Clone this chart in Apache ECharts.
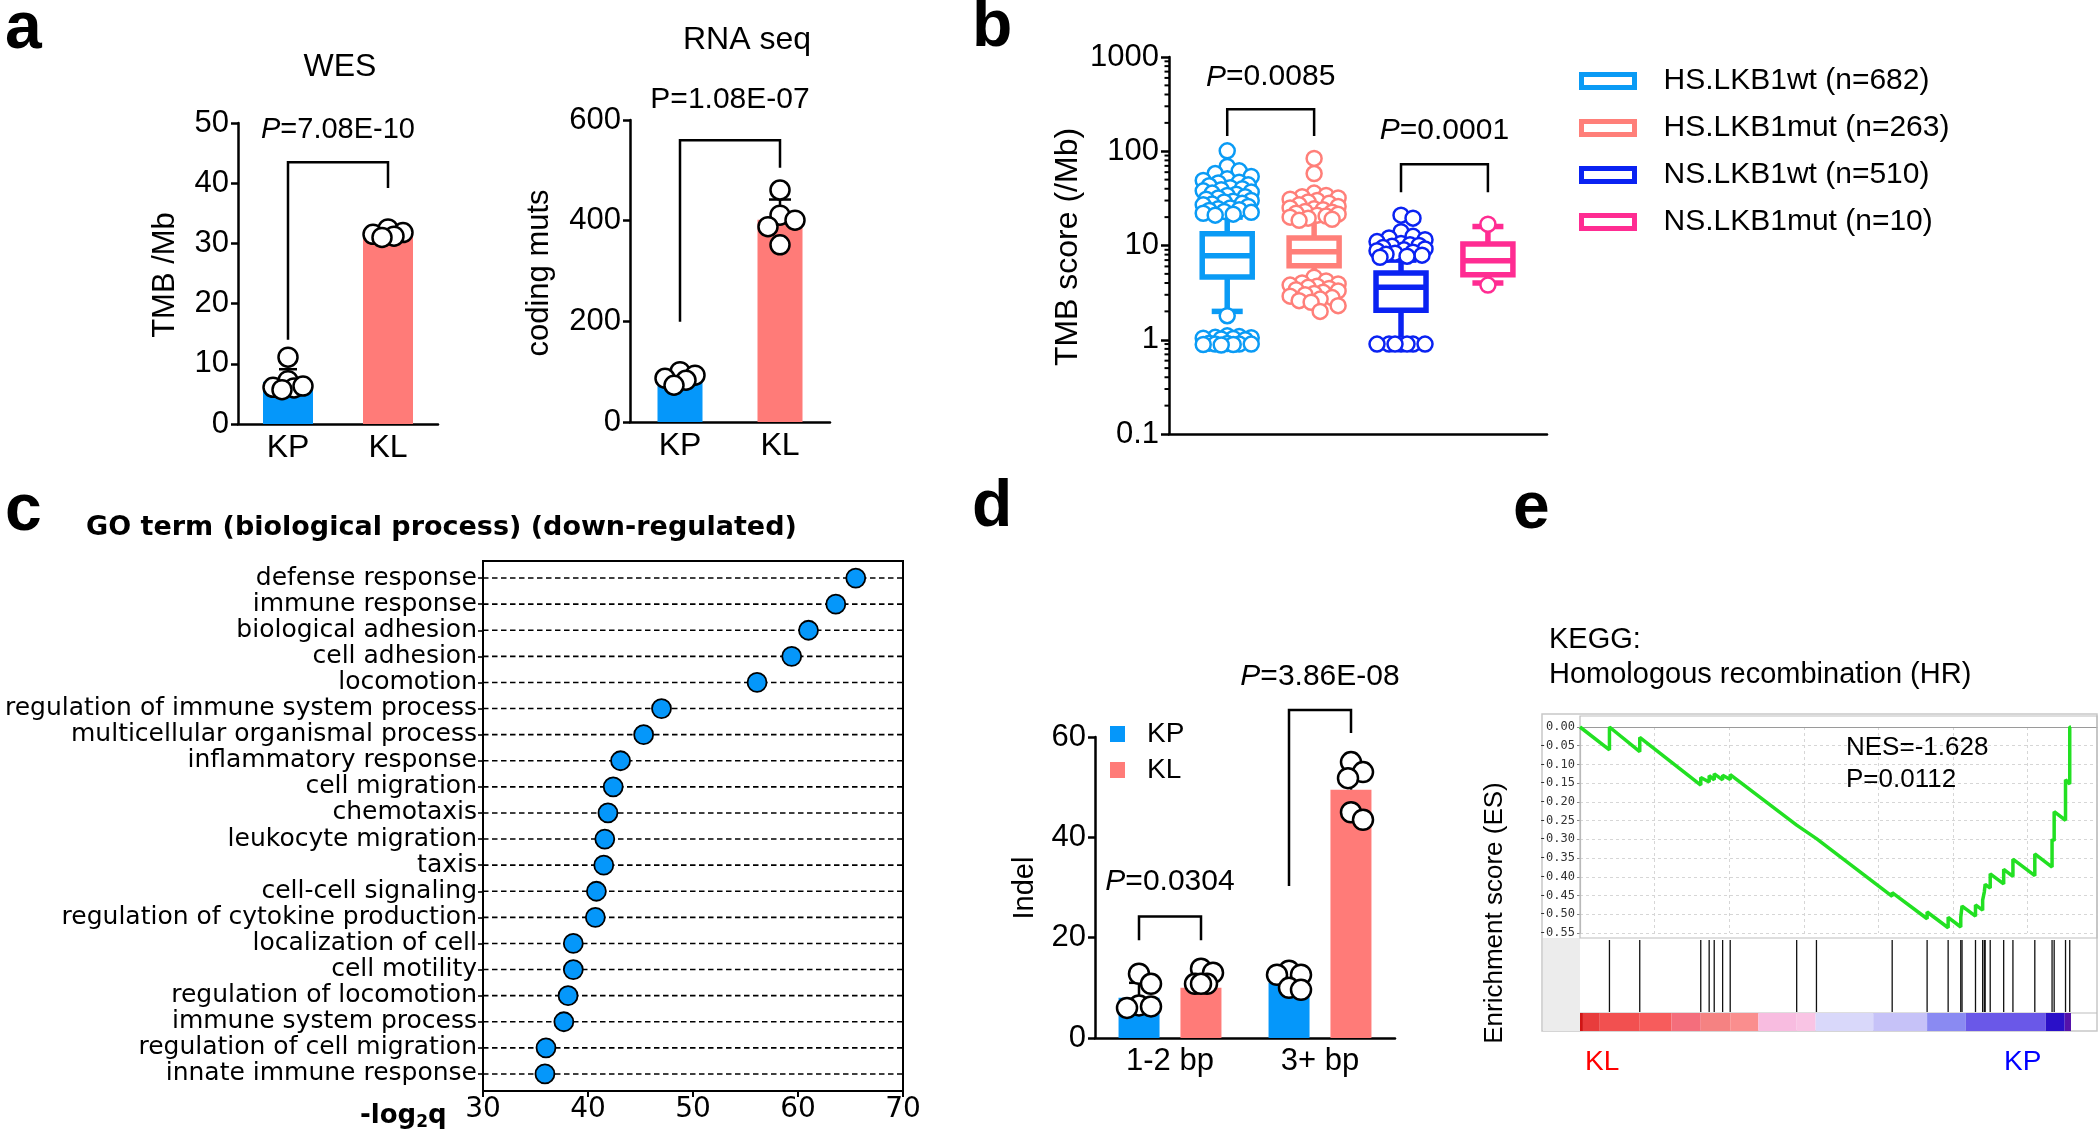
<!DOCTYPE html>
<html><head><meta charset="utf-8">
<script src="https://cdn.jsdelivr.net/npm/echarts@6/dist/echarts.min.js"></script>
<style>html,body{margin:0;padding:0;background:#fff}#c{width:2100px;height:1132px}</style>
</head><body><div id="c"></div>
<script>
// ================= DATA =================
// panel a
const groupsA = ['KP', 'KL'];
const wesMean = [7.0, 31.5];
const wesSd = [2.1, 0.7];
const wesKP = [11.1, 7.2, 6.1, 6.0, 6.3, 5.7];
const wesKL = [32.4, 31.8, 31.5, 31.2, 31.0];
const rnaMean = [87, 402];
const rnaSd = [10, 40];
const rnaKP = [100, 93, 87, 83, 73];
const rnaKL = [461, 411, 401, 388, 352];
const wesTicks = [0, 10, 20, 30, 40, 50];
const rnaTicks = [0, 200, 400, 600];
// brackets: [x1, x2, top, leftEnd, rightEnd, textY]
const wesBracket = [[0, 1, 43.5, 14, 39.2, 48.8]];
const wesPText = ['P=7.08E-10'];
const rnaBracket = [[0, 1, 560, 199, 505, 640]];
const rnaPText = ['P=1.08E-07'];

// panel b
const tmbGroups = ['HS.LKB1wt (n=682)', 'HS.LKB1mut (n=263)', 'NS.LKB1wt (n=510)', 'NS.LKB1mut (n=10)'];
// [lower whisker, Q1, median, Q3, upper whisker]
const tmbBox = [
  [2.0, 4.62, 7.8, 13.3, 20],
  [4.3, 6.1, 8.6, 12.0, 21],
  [1.0, 2.05, 3.6, 5.1, 7.0],
  [4.0, 4.9, 6.9, 10.4, 15.9]
];
const tmbPoints = [
  [101, 69, 62, 58, 54, 51, 49, 47, 46, 44, 43, 41, 40, 39, 38, 37, 36, 35, 34, 33, 32, 31, 30, 29.5, 29, 28, 27.5, 27, 26, 25, 24.5, 24, 23.5, 23, 22.5, 22, 21.5, 21,
   1.8, 1.1, 1.08, 1.06, 1.05, 1.04, 1.03, 1.02, 1.0, 0.92, 0.91, 0.9, 0.9, 0.9, 0.89, 0.89, 0.88],
  [84, 58, 36, 34, 33, 32, 31, 30, 29, 28, 27, 26, 25, 24.5, 24, 23, 22.5, 22, 21.5, 21, 20.5, 20, 19.5, 19, 18.5,
   4.6, 4.2, 4.0, 3.9, 3.8, 3.7, 3.6, 3.5, 3.4, 3.3, 3.2, 3.1, 3.0, 2.9, 2.8, 2.7, 2.6, 2.5, 2.3, 2.0],
  [21, 19.5, 14, 12.5, 12, 11.5, 11, 10.5, 10.2, 10, 9.8, 9.5, 9.2, 9, 8.8, 8.5, 8.3, 8.1, 7.9, 7.7, 7.5,
   0.9, 0.9, 0.9, 0.9, 0.9, 0.9, 0.9],
  [16.8, 3.8]
];
const tmbTicks = [0.1, 1, 10, 100, 1000];
const tmbBracket = [[1, 2, 279, 145, 145, 611], [3, 4, 73, 36.8, 36.8, 167]];
const tmbPText = ['P=0.0085', 'P=0.0001'];

// panel c
const goTerms = ['defense response', 'immune response', 'biological adhesion', 'cell adhesion', 'locomotion',
  'regulation of immune system process', 'multicellular organismal process', 'inflammatory response', 'cell migration',
  'chemotaxis', 'leukocyte migration', 'taxis', 'cell-cell signaling', 'regulation of cytokine production',
  'localization of cell', 'cell motility', 'regulation of locomotion', 'immune system process',
  'regulation of cell migration', 'innate immune response'];
const goScore = [65.5, 63.6, 61.0, 59.4, 56.1, 47.0, 45.3, 43.1, 42.4, 41.9, 41.6, 41.5, 40.8, 40.7, 38.6, 38.6, 38.1, 37.7, 36.0, 35.9];
const goTicks = [30, 40, 50, 60, 70];

// panel d
const indelCats = ['1-2 bp', '3+ bp'];
const indelKPMean = [8.0, 11.0];
const indelKPSd = [3.0, 2.0];
const indelKLMean = [10.0, 49.5];
const indelKLSd = [3.4, 5.0];
const indelKPPts = [[12.8, 10.8, 6.5, 6.3, 6.0], [13.4, 12.6, 12.6, 10.0, 9.6]];
const indelKLPts = [[13.8, 13.0, 10.8, 10.8, 10.8], [55, 53, 51.8, 45, 43.5]];
const indelTicks = [0, 20, 40, 60];
const indelBracket = [[0, 0, 24.2, 19.5, 19.5, 31.1], [1, 1, 65.4, 30.3, 60.8, 72]];
const indelPText = ['P=0.0304', 'P=3.86E-08'];

// panel e (GSEA)
const esRank = [0, 1973, 1973, 4003, 4003, 8091, 8091, 8654, 8654, 8993, 8993, 9556, 9556, 10064, 10064,
  14518, 14518, 15843, 15843, 20917, 20917, 23257, 23257, 24666, 24666, 25512, 25512, 25597, 25597,
  26499, 26499, 26978, 26978, 27091, 27091, 27147, 27147, 27485, 27485, 28387, 28387, 29007, 29007,
  30473, 30473, 31629, 31629, 31770, 31770, 32531, 32531, 32813, 32813, 32900];
const esScore = [0, -0.061, 0.0, -0.066, -0.028, -0.155, -0.135, -0.147, -0.130, -0.141, -0.125, -0.141, -0.129, -0.140, -0.127,
  -0.262, -0.258, -0.298, -0.294, -0.452, -0.442, -0.512, -0.494, -0.536, -0.508, -0.534, -0.508, -0.511, -0.478,
  -0.505, -0.475, -0.489, -0.462, -0.465, -0.440, -0.442, -0.420, -0.430, -0.392, -0.419, -0.380, -0.399, -0.353,
  -0.397, -0.339, -0.374, -0.300, -0.304, -0.226, -0.249, -0.141, -0.152, 0.0, 0.0];
const esHits = [1973, 4003, 8091, 8654, 8993, 9556, 10064, 14518, 15843, 20917, 23257, 24666, 25512, 25597,
  26499, 26978, 27091, 27147, 27485, 28387, 29007, 30473, 31629, 31770, 32531, 32813];
const esTicks = [0, -0.05, -0.10, -0.15, -0.20, -0.25, -0.30, -0.35, -0.40, -0.45, -0.50, -0.55];
const rankBinStart = [0, 197, 1325, 4003, 6117, 8091, 10064, 11952, 14518, 15786, 19648, 23257, 25850, 31206, 32475];
const rankBinEnd = [197, 1325, 4003, 6117, 8091, 10064, 11952, 14518, 15786, 19648, 23257, 25850, 31206, 32475, 32900];

// ================= STYLE =================
const FONT = '"Liberation Sans", Arial, Helvetica, sans-serif';
const DV = '"DejaVu Sans", Verdana, sans-serif';
const BLACK = '#000';
const C_KP = '#0597FA';
const C_KL = '#FF7B78';
const boxColors = ['#0A9BF5', '#FF7F79', '#0A22F2', '#FF2C92'];
const heatColors = ['#D01515', '#E83C3C', '#F25050', '#F75C5C', '#F46E7C', '#F58282', '#FA8E8E', '#F8BCE0', '#F9C4E4',
  '#D9D8FA', '#C6C2F8', '#8A8AF2', '#6A58E8', '#2A10C8', '#5512AA'];

// deterministic beeswarm layout (pixel offsets only)
function swarm(vals, toPx, diam, maxDx) {
  const placed = [], offs = new Array(vals.length);
  const order = vals.map((v, i) => i).sort((a, b) => vals[b] - vals[a]);
  order.forEach(i => {
    const y = toPx(vals[i]);
    let best = 0, bestScore = -Infinity;
    for (let k = 0; k < 60; k++) {
      const dx = (k % 2 ? 1 : -1) * Math.ceil(k / 2) * 3;
      if (Math.abs(dx) > maxDx) continue;
      let minD = Infinity;
      placed.forEach(p => { const d = Math.hypot(p[0] - dx, p[1] - y); if (d < minD) minD = d; });
      if (minD >= diam * 0.78) { best = dx; bestScore = Infinity; break; }
      if (minD > bestScore) { bestScore = minD; best = dx; }
    }
    placed.push([best, y]);
    offs[i] = best;
  });
  return offs;
}

function pointsSeries(name, xi, yi, cat, vals, toPx, diam, maxDx, baseDx, border, fill, bw) {
  const offs = swarm(vals, toPx, diam, maxDx);
  return {
    name, type: 'scatter', xAxisIndex: xi, yAxisIndex: yi, symbol: 'circle', symbolSize: diam, silent: true, z: 5,
    itemStyle: { color: fill, borderColor: border, borderWidth: bw, opacity: 1 },
    data: vals.map((v, i) => ({ value: [cat, v], symbolOffset: [baseDx + offs[i], 0] }))
  };
}

function errRender(dx, capW) {
  return function (params, api) {
    const x = api.value(0), m = api.value(1), s = api.value(2);
    const p0 = api.coord([x, m]), p1 = api.coord([x, m + s]);
    const cx = p0[0] + dx;
    const st = { stroke: BLACK, lineWidth: 2.5, fill: null };
    return { type: 'group', children: [
      { type: 'line', shape: { x1: cx, y1: p0[1], x2: cx, y2: p1[1] }, style: st },
      { type: 'line', shape: { x1: cx - capW / 2, y1: p1[1], x2: cx + capW / 2, y2: p1[1] }, style: st }
    ] };
  };
}

function bracketRender(texts, dxs, italic, fs) {
  return function (params, api) {
    const x1 = api.value(0), x2 = api.value(1);
    const a = api.coord([x1, api.value(2)]);
    const b = api.coord([x2, api.value(2)]);
    const l = api.coord([x1, api.value(3)]);
    const r = api.coord([x2, api.value(4)]);
    const t = api.coord([x1, api.value(5)]);
    const X1 = a[0] + dxs[0], X2 = b[0] + dxs[1];
    const raw = texts[params.dataIndex];
    const txt = italic ? '{i|P}' + raw.slice(1) : raw;
    return { type: 'group', children: [
      { type: 'polyline', shape: { points: [[X1, l[1]], [X1, a[1]], [X2, a[1]], [X2, r[1]]] },
        style: { stroke: BLACK, lineWidth: 2.5, fill: null } },
      { type: 'text', x: (X1 + X2) / 2, y: t[1],
        style: { text: txt, fontSize: fs, fontFamily: FONT, fill: BLACK,
          align: 'center', verticalAlign: 'middle', textAlign: 'center', textVerticalAlign: 'middle',
          rich: { i: { fontStyle: 'italic', fontSize: fs, fontFamily: FONT, fill: BLACK } } } }
    ] };
  };
}

function boxRender(color) {
  return function (params, api) {
    const x = api.value(0);
    const pl = api.coord([x, api.value(1)]), p1 = api.coord([x, api.value(2)]), pm = api.coord([x, api.value(3)]),
      p3 = api.coord([x, api.value(4)]), ph = api.coord([x, api.value(5)]);
    const cx = pl[0], hw = 25, cw = 15.5;
    const st = { stroke: color, lineWidth: 5.5, fill: null };
    return { type: 'group', children: [
      { type: 'line', shape: { x1: cx, y1: pl[1], x2: cx, y2: p1[1] }, style: st },
      { type: 'line', shape: { x1: cx, y1: p3[1], x2: cx, y2: ph[1] }, style: st },
      { type: 'line', shape: { x1: cx - cw, y1: pl[1], x2: cx + cw, y2: pl[1] }, style: st },
      { type: 'line', shape: { x1: cx - cw, y1: ph[1], x2: cx + cw, y2: ph[1] }, style: st },
      { type: 'rect', shape: { x: cx - hw, y: p3[1], width: 2 * hw, height: p1[1] - p3[1] }, style: { stroke: color, lineWidth: 5.5, fill: '#fff' } },
      { type: 'line', shape: { x1: cx - hw, y1: pm[1], x2: cx + hw, y2: pm[1] }, style: st }
    ] };
  };
}

// ---- axis helpers ----
function catX(grid, data, fs, fam) {
  return { gridIndex: grid, type: 'category', data,
    axisLine: { lineStyle: { color: BLACK, width: 2.5 } }, axisTick: { show: false },
    axisLabel: { color: BLACK, fontSize: fs, fontFamily: fam || FONT, margin: 8 }, splitLine: { show: false } };
}
function valY(grid, ticks, fs) {
  return { gridIndex: grid, type: 'value', min: ticks[0], max: ticks[ticks.length - 1], interval: ticks[1] - ticks[0],
    axisLine: { show: true, lineStyle: { color: BLACK, width: 2.5 } },
    axisTick: { show: true, length: 7, lineStyle: { color: BLACK, width: 2.5 } },
    axisLabel: { color: BLACK, fontSize: fs, fontFamily: FONT, margin: 9 }, splitLine: { show: false } };
}

// pixel scales for swarm layout
const wesPx = v => -v * 301 / 50;
const rnaPx = v => -v * 302 / 600;
const tmbPx = v => -Math.log10(v) * 94.25;
const indPx = v => -v * 301 / 60;

// minor ticks for log axis
const minorVals = [];
[0.1, 1, 10, 100].forEach(d => { for (let k = 2; k <= 9; k++) minorVals.push(d * k); });

const series = [];
// ---- panel a: WES ----
series.push({ type: 'bar', xAxisIndex: 0, yAxisIndex: 0, barWidth: 50, silent: true,
  data: wesMean.map((v, i) => ({ value: v, itemStyle: { color: i ? C_KL : C_KP } })) });
series.push({ type: 'custom', xAxisIndex: 0, yAxisIndex: 0, renderItem: errRender(0, 18), silent: true, z: 4,
  data: wesMean.map((m, i) => [i, m, wesSd[i]]) });
series.push(pointsSeries('wesKP', 0, 0, 0, wesKP, wesPx, 19, 17, 0, BLACK, '#fff', 2.5));
series.push(pointsSeries('wesKL', 0, 0, 1, wesKL, wesPx, 19, 17, 0, BLACK, '#fff', 2.5));
series.push({ type: 'custom', xAxisIndex: 0, yAxisIndex: 0, renderItem: bracketRender(wesPText, [0, 0], true, 29), silent: true, data: wesBracket });
// ---- panel a: RNA ----
series.push({ type: 'bar', xAxisIndex: 1, yAxisIndex: 1, barWidth: 45, silent: true,
  data: rnaMean.map((v, i) => ({ value: v, itemStyle: { color: i ? C_KL : C_KP } })) });
series.push({ type: 'custom', xAxisIndex: 1, yAxisIndex: 1, renderItem: errRender(0, 22), silent: true, z: 4,
  data: rnaMean.map((m, i) => [i, m, rnaSd[i]]) });
series.push(pointsSeries('rnaKP', 1, 1, 0, rnaKP, rnaPx, 19, 16, 0, BLACK, '#fff', 2.5));
series.push(pointsSeries('rnaKL', 1, 1, 1, rnaKL, rnaPx, 19, 16, 0, BLACK, '#fff', 2.5));
series.push({ type: 'custom', xAxisIndex: 1, yAxisIndex: 1, renderItem: bracketRender(rnaPText, [0, 0], false, 30), silent: true, data: rnaBracket });
// ---- panel b ----
tmbGroups.forEach((g, i) => {
  series.push({ name: g, type: 'custom', xAxisIndex: 2, yAxisIndex: 2, renderItem: boxRender(boxColors[i]), silent: true,
    itemStyle: { color: '#fff', borderColor: boxColors[i], borderWidth: 5 },
    data: [[i + 1].concat(tmbBox[i])] });
});
tmbGroups.forEach((g, i) => {
  series.push(pointsSeries('tmbPts' + i, 2, 2, i + 1, tmbPoints[i], tmbPx, 15, 26, 0, boxColors[i], '#fff', 2.5));
});
series.push({ type: 'custom', xAxisIndex: 2, yAxisIndex: 2, renderItem: bracketRender(tmbPText, [0, 0], true, 30), silent: true, data: tmbBracket });
series.push({ type: 'custom', xAxisIndex: 2, yAxisIndex: 2, silent: true, data: minorVals.map(v => [0.33, v]),
  renderItem: (p, api) => { const c = api.coord([api.value(0), api.value(1)]);
    return { type: 'line', shape: { x1: c[0] - 4.5, y1: c[1], x2: c[0], y2: c[1] }, style: { stroke: BLACK, lineWidth: 2 } }; } });
// ---- panel c ----
series.push({ type: 'custom', xAxisIndex: 3, yAxisIndex: 3, silent: true, data: goTerms.map((t, i) => [i]),
  renderItem: (p, api) => { const i = api.value(0); const a = api.coord([30, i]), b = api.coord([70, i]);
    return { type: 'line', shape: { x1: a[0], y1: a[1], x2: b[0], y2: b[1] }, style: { stroke: BLACK, lineWidth: 1.6, lineDash: [5.5, 3.5] } }; } });
series.push({ type: 'scatter', xAxisIndex: 3, yAxisIndex: 3, symbolSize: 19, silent: true, z: 5,
  itemStyle: { color: C_KP, borderColor: BLACK, borderWidth: 1.8, opacity: 1 },
  data: goScore.map((v, i) => [v, i]) });
// ---- panel d ----
series.push({ name: 'KP', type: 'bar', xAxisIndex: 4, yAxisIndex: 4, barWidth: 41, barGap: '51%', silent: true, itemStyle: { color: C_KP }, data: indelKPMean });
series.push({ name: 'KL', type: 'bar', xAxisIndex: 4, yAxisIndex: 4, barWidth: 41, barGap: '51%', silent: true, itemStyle: { color: C_KL }, data: indelKLMean });
series.push({ type: 'custom', xAxisIndex: 4, yAxisIndex: 4, renderItem: errRender(-31, 20), silent: true, z: 4, data: indelKPMean.map((m, i) => [i, m, indelKPSd[i]]) });
series.push({ type: 'custom', xAxisIndex: 4, yAxisIndex: 4, renderItem: errRender(31, 20), silent: true, z: 4, data: indelKLMean.map((m, i) => [i, m, indelKLSd[i]]) });
indelCats.forEach((c, ci) => {
  series.push(pointsSeries('indKP' + ci, 4, 4, ci, indelKPPts[ci], indPx, 20, 13, -31, BLACK, '#fff', 2.5));
  series.push(pointsSeries('indKL' + ci, 4, 4, ci, indelKLPts[ci], indPx, 20, 13, 31, BLACK, '#fff', 2.5));
});
series.push({ type: 'custom', xAxisIndex: 4, yAxisIndex: 4, renderItem: bracketRender(indelPText, [-31, 31], true, 30), silent: true, data: indelBracket });
// ---- panel e ----
series.push({ type: 'line', xAxisIndex: 5, yAxisIndex: 5, showSymbol: false, silent: true, z: 5,
  lineStyle: { color: '#22E022', width: 3.5 }, data: esRank.map((r, i) => [r, esScore[i]]) });
series.push({ type: 'custom', xAxisIndex: 6, yAxisIndex: 6, silent: true, data: esHits.map(h => [h]),
  renderItem: (p, api) => { const a = api.coord([api.value(0), 0]), b = api.coord([api.value(0), 1]);
    return { type: 'line', shape: { x1: a[0], y1: a[1], x2: b[0], y2: b[1] }, style: { stroke: '#111', lineWidth: 1.3 } }; } });
series.push({ type: 'custom', xAxisIndex: 7, yAxisIndex: 7, silent: true, data: rankBinStart.map((s, i) => [s, rankBinEnd[i]]),
  renderItem: (p, api) => { const a = api.coord([api.value(0), 1]), b = api.coord([api.value(1), 0]);
    return { type: 'rect', shape: { x: a[0], y: a[1], width: b[0] - a[0], height: b[1] - a[1] }, style: { fill: heatColors[p.dataIndex] } }; } });

function hiddenAxis(grid, min, max) {
  return { gridIndex: grid, type: 'value', min, max, show: false, splitLine: { show: false } };
}

const xAxis = [
  catX(0, groupsA, 32),
  catX(1, groupsA, 32),
  { gridIndex: 2, type: 'value', min: 0.33, max: 4.68, axisLine: { show: true, onZero: false, lineStyle: { color: BLACK, width: 2.5 } },
    axisTick: { show: false }, axisLabel: { show: false }, splitLine: { show: false } },
  { gridIndex: 3, type: 'value', min: goTicks[0], max: goTicks[goTicks.length - 1], interval: 10, offset: 4,
    axisLine: { show: true, lineStyle: { color: BLACK, width: 2 } }, axisTick: { show: true, length: 6, lineStyle: { color: BLACK, width: 2 } },
    axisLabel: { color: BLACK, fontSize: 28, fontFamily: DV, margin: 5 }, splitLine: { show: false } },
  catX(4, indelCats, 31),
  { gridIndex: 5, type: 'value', min: 0, max: 34640, interval: 5000, position: 'top',
    axisLine: { show: true, onZero: false, lineStyle: { color: '#9a9a9a', width: 1.2 } }, axisTick: { show: false }, axisLabel: { show: false },
    splitLine: { show: true, lineStyle: { color: '#d6d6d6', type: [3, 3], width: 1 } } },
  hiddenAxis(6, 0, 34640),
  hiddenAxis(7, 0, 34640)
];
const yAxis = [
  valY(0, wesTicks, 31),
  valY(1, rnaTicks, 31),
  { gridIndex: 2, type: 'log', logBase: 10, min: tmbTicks[0], max: tmbTicks[tmbTicks.length - 1],
    axisLine: { show: true, lineStyle: { color: BLACK, width: 2.5 } },
    axisTick: { show: true, length: 8, lineStyle: { color: BLACK, width: 2.5 } },
    axisLabel: { color: BLACK, fontSize: 31, fontFamily: FONT, margin: 10, formatter: v => String(+(+v).toPrecision(3)) },
    splitLine: { show: false } },
  { gridIndex: 3, type: 'category', data: goTerms, inverse: true,
    axisLine: { show: true, lineStyle: { color: BLACK, width: 2 } },
    axisTick: { show: true, alignWithLabel: true, length: 5, lineStyle: { color: BLACK, width: 1.6 } },
    axisLabel: { color: BLACK, fontSize: 25, fontFamily: DV, margin: 6, interval: 0 }, splitLine: { show: false } },
  valY(4, indelTicks, 31),
  { gridIndex: 5, type: 'value', min: esTicks[esTicks.length - 1], max: esTicks[0], interval: 0.05,
    axisLine: { show: true, lineStyle: { color: '#b5b5b5', width: 1.2 } },
    axisTick: { show: true, length: 3, lineStyle: { color: '#888' } },
    axisLabel: { color: '#333', fontSize: 12, fontFamily: '"DejaVu Sans Mono", monospace', margin: 5, formatter: v => (+v).toFixed(2) },
    splitLine: { show: true, lineStyle: { color: '#d6d6d6', type: [3, 3], width: 1 } } },
  hiddenAxis(6, 0, 1),
  hiddenAxis(7, 0, 1)
];

const grid = [
  { left: 238, top: 123, width: 200, height: 301 },
  { left: 630, top: 120, width: 200, height: 302 },
  { left: 1169, top: 57, width: 378, height: 377 },
  { left: 483, top: 565, width: 420, height: 522 },
  { left: 1095, top: 737, width: 300, height: 301 },
  { left: 1580, top: 727, width: 517, height: 206 },
  { left: 1580, top: 940, width: 517, height: 72 },
  { left: 1580, top: 1013, width: 517, height: 18 }
];

function txt(text, x, y, fs, opts) {
  opts = opts || {};
  return { type: 'text', x, y, rotation: opts.rot || 0, z: 10, silent: true,
    style: { text, fontSize: fs, fontFamily: opts.fam || FONT, fontWeight: opts.bold ? 'bold' : 'normal', fill: opts.color || BLACK,
      textAlign: opts.align || 'left', textVerticalAlign: 'middle', align: opts.align || 'left', verticalAlign: 'middle',
      rich: opts.rich } };
}

const graphic = [
  // panel letters
  txt('a', 5, 30, 66, { bold: true }),
  txt('b', 972, 28, 66, { bold: true }),
  txt('c', 5, 512, 66, { bold: true }),
  txt('d', 972, 508, 66, { bold: true }),
  txt('e', 1513, 510, 66, { bold: true }),
  // panel a
  txt('WES', 340, 67, 32, { align: 'center' }),
  txt('RNA seq', 747, 40, 32, { align: 'center' }),
  txt('TMB /Mb', 165, 275, 31, { align: 'center', rot: Math.PI / 2 }),
  txt('coding muts', 539, 273, 31, { align: 'center', rot: Math.PI / 2 }),
  // panel b
  txt('TMB score (/Mb)', 1068, 247, 32, { align: 'center', rot: Math.PI / 2 }),
  // panel c
  txt('GO term (biological process) (down-regulated)', 86, 528, 27, { bold: true, fam: DV }),
  { type: 'rect', shape: { x: 483, y: 561, width: 420, height: 530 }, style: { fill: null, stroke: BLACK, lineWidth: 2 }, z: 3, silent: true },
  { type: 'text', x: 360, y: 1116, z: 10, silent: true,
    style: { text: '{a|-log}{s|2}{a|q}', textVerticalAlign: 'middle', verticalAlign: 'middle', fill: BLACK,
      rich: { a: { fontSize: 26, fontWeight: 'bold', fontFamily: DV, fill: BLACK, lineHeight: 30, verticalAlign: 'middle' },
              s: { fontSize: 17, fontWeight: 'bold', fontFamily: DV, fill: BLACK, lineHeight: 14, verticalAlign: 'bottom' } } } },
  // panel d
  txt('Indel', 1025, 888, 29, { align: 'center', rot: Math.PI / 2 }),
  // panel e frames
  { type: 'rect', shape: { x: 1542, y: 714, width: 555, height: 317 }, style: { fill: null, stroke: '#c8c8c8', lineWidth: 1.5 }, z: 0, silent: true },
  { type: 'rect', shape: { x: 1543, y: 938, width: 37, height: 93 }, style: { fill: '#ececec' }, z: 0, silent: true },
  { type: 'rect', shape: { x: 1580, y: 716, width: 517, height: 222 }, style: { fill: null, stroke: '#bdbdbd', lineWidth: 1.2 }, z: 1, silent: true },
  { type: 'line', shape: { x1: 1580, y1: 1013, x2: 2097, y2: 1013 }, style: { stroke: '#bdbdbd', lineWidth: 1.2 }, z: 1, silent: true },
  txt('KEGG:', 1549, 640, 29),
  txt('Homologous recombination (HR)', 1549, 675, 29),
  txt('NES=-1.628', 1846, 748, 26),
  txt('P=0.0112', 1846, 780, 26),
  txt('Enrichment score (ES)', 1495, 913, 26, { align: 'center', rot: Math.PI / 2 }),
  txt('KL', 1585, 1062, 28, { color: '#FF0000' }),
  txt('KP', 2004, 1062, 28, { color: '#0000FF' })
];

const legend = [
  { orient: 'vertical', left: 1574, top: 59, itemWidth: 53, itemHeight: 13, itemGap: 13, icon: 'rect', selectedMode: false,
    textStyle: { fontSize: 30, fontFamily: FONT, color: BLACK, lineHeight: 34, padding: [0, 0, 0, 24] },
    data: tmbGroups.map((n, i) => ({ name: n, icon: 'rect', itemStyle: { color: '#fff', borderColor: boxColors[i], borderWidth: 5 } })) },
  { orient: 'vertical', left: 1105, top: 713, itemWidth: 15, itemHeight: 16, itemGap: 4, icon: 'rect', selectedMode: false,
    textStyle: { fontSize: 28, fontFamily: FONT, color: BLACK, lineHeight: 32, padding: [0, 0, 0, 17] },
    data: [{ name: 'KP', itemStyle: { color: C_KP } }, { name: 'KL', itemStyle: { color: C_KL } }] }
];

const chart = echarts.init(document.getElementById('c'), null, { renderer: 'canvas', width: 2100, height: 1132 });
chart.setOption({ backgroundColor: '#fff', animation: false, grid, xAxis, yAxis, series, legend, graphic });
</script></body></html>
